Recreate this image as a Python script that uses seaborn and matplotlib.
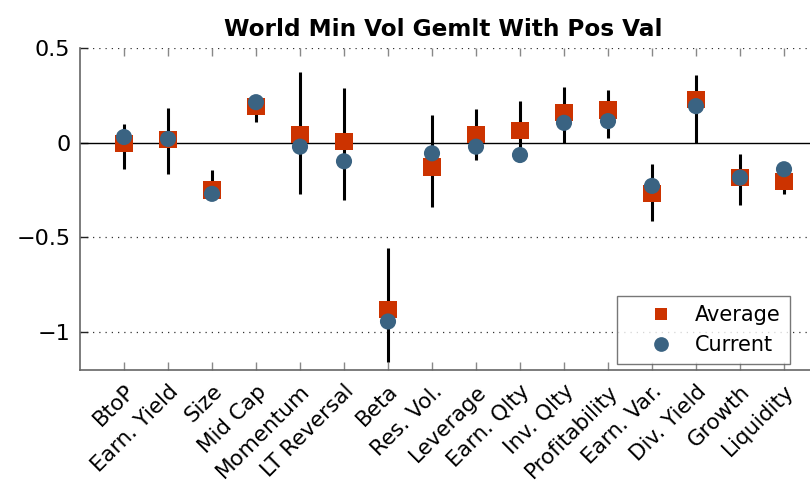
import numpy as np
import pandas as pd
import matplotlib
matplotlib.use("Agg")
import matplotlib.pyplot as plt
from matplotlib.lines import Line2D
import seaborn as sns

categories = ["BtoP", "Earn. Yield", "Size", "Mid Cap", "Momentum", "LT Reversal",
              "Beta", "Res. Vol.", "Leverage", "Earn. Qlty", "Inv. Qlty",
              "Profitability", "Earn. Var.", "Div. Yield", "Growth", "Liquidity"]
average = [-0.005, 0.017, -0.25, 0.19, 0.042, 0.008, -0.88, -0.128, 0.042, 0.065,
           0.161, 0.172, -0.268, 0.228, -0.184, -0.205]
current = [0.03, 0.02, -0.27, 0.214, -0.021, -0.098, -0.944, -0.056, -0.021, -0.065,
           0.105, 0.114, -0.228, 0.193, -0.184, -0.14]
range_low = [-0.14, -0.163, -0.28, 0.108, -0.272, -0.30, -1.158, -0.342, -0.093, -0.07,
             0.0, 0.023, -0.412, 0.0, -0.33, -0.272]
range_high = [0.10, 0.184, -0.146, 0.23, 0.372, 0.29, -0.554, 0.144, 0.18, 0.219,
              0.295, 0.28, -0.114, 0.356, -0.062, -0.15]
series_names = ["Average", "Current"]
title = "World Min Vol Gemlt With Pos Val"

sns.set_theme(style="white")
plt.rcParams['font.family'] = ['DejaVu Sans']
plt.rcParams['text.color'] = 'black'
plt.rcParams['xtick.color'] = 'black'
plt.rcParams['ytick.color'] = 'black'
plt.rcParams['axes.labelcolor'] = 'black'

colors = {"Average": "#CC3300", "Current": "#3A6382"}
markers = {"Average": "s", "Current": "o"}

pos = np.arange(1, len(categories) + 1)
df = pd.DataFrame({
    "x": np.concatenate([pos, pos]),
    "value": average + current,
    "series": ["Average"] * len(pos) + ["Current"] * len(pos),
})

fig = plt.figure(figsize=(8.1, 4.91), dpi=100)
ax = fig.add_axes([80 / 810, 1 - 370 / 491, 748 / 810, 322 / 491])

# grid lines
for yv in [0.5, -0.5, -1.0]:
    ax.axhline(yv, color="#333333", lw=0.9, ls=(0, (1, 4)), zorder=0)
ax.axhline(0, color="black", lw=1.0, zorder=1)

ax.vlines(pos, range_low, range_high, color="black", lw=2.2, zorder=2)

sns.scatterplot(data=df, x="x", y="value", hue="series", style="series",
                size="series", sizes={"Average": 155, "Current": 135},
                markers=markers, palette=colors,
                linewidth=0, ax=ax, zorder=3, legend=False)

ax.set_xlim(0, 17)
ax.set_ylim(-1.2, 0.5)
ax.set_xticks(pos)
ax.set_xticklabels(categories, rotation=45, ha="right", rotation_mode="anchor",
                   fontsize=15.5)
ax.set_yticks([0.5, 0, -0.5, -1])
ax.set_yticklabels(["0.5", "0", "\u22120.5", "\u22121"], fontsize=16)
ax.set_xlabel("")
ax.set_ylabel("")
ax.tick_params(axis="both", direction="in", length=6, width=1,
               top=True, bottom=True, left=True, right=False, pad=8)
ax.tick_params(axis="x", color="#888888")
ax.tick_params(axis="y", color="#222222", pad=7)
for side in ["top", "right"]:
    ax.spines[side].set_visible(False)
for side in ["left", "bottom"]:
    ax.spines[side].set_color("#666666")
    ax.spines[side].set_linewidth(1.2)

ax.set_title(title, fontsize=16.7, fontweight="bold", pad=9, x=(443 - 80) / 748)

handles = [Line2D([], [], ls="none", marker=markers[n], color=colors[n],
                  markeredgewidth=0, markersize=(8.8 if n == "Average" else 10.6))
           for n in series_names]
leg = ax.legend(handles, series_names, loc="lower right",
                bbox_to_anchor=(790 / 810, 1 - 364 / 491), bbox_transform=fig.transFigure,
                fontsize=15, frameon=True, fancybox=False, edgecolor="#555555",
                handlelength=3.3, handletextpad=0.0,
                borderpad=0.44, labelspacing=0.45, borderaxespad=0)
leg.get_frame().set_linewidth(1.0)

fig.savefig("out.png", dpi=100)
